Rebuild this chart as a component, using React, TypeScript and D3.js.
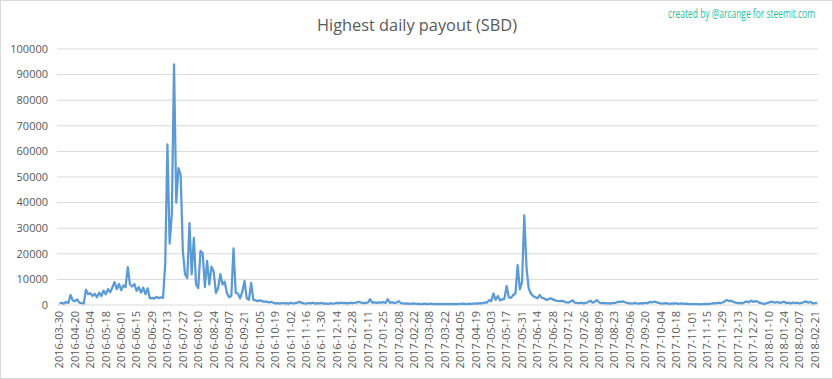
import { useLayoutEffect, useRef } from "react";
import * as d3 from "d3";

// Highest daily payout in SBD, one value every 2 days (categories 0, 2, 4, ...)
const payout = [
  600, 900, 500, 1200, 800, 3900, 1800, 1500, 2200, 900,
  700, 600, 6000, 4200, 4600, 3500, 4400, 3000, 4800, 3500,
  5600, 4200, 6200, 5000, 6800, 9000, 6200, 8200, 5800, 7600,
  7000, 14800, 8000, 7200, 8200, 5500, 7000, 4800, 6800, 4200,
  6500, 2600, 2800, 2500, 3200, 2700, 3000, 2800, 16000, 62700,
  24000, 35500, 94000, 40000, 53500, 50800, 21000, 12000, 10500, 32000,
  12000, 26200, 8000, 6600, 21100, 20300, 7000, 17200, 8000, 15000,
  13000, 4700, 6600, 12100, 8000, 9100, 4700, 3000, 3500, 22100,
  4700, 4500, 2600, 5200, 9400, 2600, 2000, 8600, 2000, 1800,
  1500, 1800, 1500, 1200, 1400, 1000, 1200, 900, 600, 700,
  500, 800, 600, 700, 500, 900, 600, 700, 900, 1300,
  800, 600, 500, 800, 600, 900, 500, 700, 600, 800,
  500, 600, 400, 700, 500, 600, 800, 700, 900, 700,
  800, 600, 900, 700, 800, 1000, 1200, 900, 700, 800,
  900, 2300, 900, 1000, 800, 1000, 900, 1100, 800, 2300,
  900, 1000, 800, 900, 1500, 700, 600, 500, 600, 400,
  500, 600, 400, 500, 300, 400, 500, 300, 400, 500,
  300, 400, 300, 400, 300, 400, 300, 300, 400, 300,
  400, 300, 400, 500, 400, 300, 500, 400, 500, 600,
  500, 700, 600, 1000, 900, 1900, 1500, 4500, 2000, 3500,
  1800, 2200, 2500, 7400, 3000, 2800, 3900, 4500, 15600, 6100,
  9000, 35000, 15000, 6500, 4500, 3500, 3000, 2600, 3900, 2800,
  2600, 2000, 2300, 2600, 2200, 1800, 1600, 1500, 1600, 1400,
  1000, 900, 1400, 1800, 900, 800, 700, 900, 600, 800,
  1200, 1700, 900, 1200, 1950, 1000, 700, 800, 600, 700,
  500, 800, 700, 1100, 1300, 1200, 1400, 1000, 700, 600,
  500, 800, 600, 500, 700, 600, 800, 700, 1200, 1000,
  1300, 1100, 800, 600, 500, 700, 600, 400, 600, 500,
  700, 400, 600, 500, 400, 500, 300, 300, 400, 300,
  300, 200, 300, 400, 300, 400, 500, 700, 600, 900,
  700, 1000, 1400, 2000, 1500, 1700, 1100, 900, 700, 800,
  600, 1100, 1400, 1000, 1700, 1200, 1500, 1300, 800, 600,
  400, 700, 900, 1300, 1100, 900, 1200, 800, 1000, 1300,
  700, 900, 600, 1000, 700, 900, 600, 800, 1200, 1400,
  900, 1200, 600, 700, 800,
];

// one label every 14 categories
const dateLabels = [
  "2016-03-30", "2016-04-20", "2016-05-04", "2016-05-18", "2016-06-01", "2016-06-15", "2016-06-29",
  "2016-07-13", "2016-07-27", "2016-08-10", "2016-08-24", "2016-09-07", "2016-09-21", "2016-10-05",
  "2016-10-19", "2016-11-02", "2016-11-16", "2016-11-30", "2016-12-14", "2016-12-28", "2017-01-11",
  "2017-01-25", "2017-02-08", "2017-02-22", "2017-03-08", "2017-03-22", "2017-04-05", "2017-04-19",
  "2017-05-03", "2017-05-17", "2017-05-31", "2017-06-14", "2017-06-28", "2017-07-12", "2017-07-26",
  "2017-08-09", "2017-08-23", "2017-09-06", "2017-09-20", "2017-10-04", "2017-10-18", "2017-11-01",
  "2017-11-15", "2017-11-29", "2017-12-13", "2017-12-27", "2018-01-10", "2018-01-24", "2018-02-07",
  "2018-02-21",
];

const yTicks = [0, 10000, 20000, 30000, 40000, 50000, 60000, 70000, 80000, 90000, 100000];

const LABEL_STEP = 14;
const POINT_STEP = 2;

export default function App() {
  const width = 833;
  const height = 379;
  const plotLeft = 57;
  const plotRight = 818;
  const creditRef = useRef<SVGTextElement>(null);

  // squeeze the credit line into the narrow width the reference font gives it
  useLayoutEffect(() => {
    const el = creditRef.current;
    if (!el) return;
    const w = el.getComputedTextLength();
    if (w > 0) el.setAttribute("transform", `translate(815,18) scale(${147 / w},1)`);
  }, []);

  const lastLabelCat = (dateLabels.length - 1) * LABEL_STEP;
  const x = d3.scaleLinear().domain([0, lastLabelCat]).range([59.5, 815]);
  const y = d3.scaleLinear().domain([0, 100000]).range([305, 49]);

  const line = d3
    .line<number>()
    .x((_, i) => x(i * POINT_STEP))
    .y((d) => y(d));

  const font = "'Open Sans', 'Noto Sans', sans-serif";

  return (
    <svg
      width={width}
      height={height}
      style={{ position: "absolute", left: 0, top: 0, display: "block", background: "#fff" }}
    >
      <rect x={0.5} y={0.5} width={width - 1} height={height - 1} fill="#fff" stroke="#d9d9d9" />

      <text
        x={417}
        y={31}
        textAnchor="middle"
        fontFamily={font}
        fontSize={16.5}
        fill="#595959"
        textLength={200}
        lengthAdjust="spacingAndGlyphs"
      >
        Highest daily payout (SBD)
      </text>
      <text
        ref={creditRef}
        transform="translate(815,18)"
        textAnchor="end"
        fontFamily={font}
        fontSize={13}
        fill="#1cc3a1"
      >
        created by @arcange for steemit.com
      </text>

      {/* grid + y labels */}
      {yTicks.map((t) => (
        <g key={t}>
          <line x1={plotLeft} x2={plotRight} y1={y(t)} y2={y(t)} stroke="#d9d9d9" strokeWidth={1} />
          <text
            x={48}
            y={y(t)}
            dy="0.35em"
            textAnchor="end"
            fontFamily={font}
            fontSize={11}
            fill="#595959"
          >
            {t}
          </text>
        </g>
      ))}

      {/* x labels */}
      {dateLabels.map((d, i) => {
        const px = x(i * LABEL_STEP);
        return (
          <text
            key={d}
            transform={`translate(${px},311) rotate(-90)`}
            dy="0.35em"
            textAnchor="end"
            fontFamily={font}
            fontSize={11}
            fill="#595959"
          >
            {d}
          </text>
        );
      })}

      <path d={line(payout) || ""} fill="none" stroke="#5b9bd5" strokeWidth={2.25} strokeLinejoin="round" />
    </svg>
  );
}
